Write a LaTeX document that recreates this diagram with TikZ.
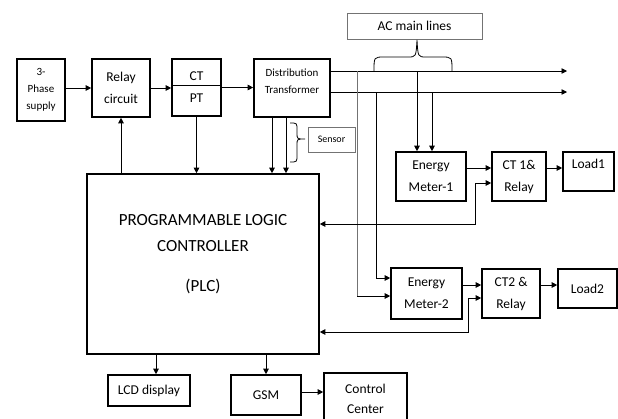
\documentclass[tikz,border=0pt]{standalone}
\usepackage{fontspec}
\setmainfont{Carlito}
\usetikzlibrary{arrows.meta}

\begin{document}
\begin{tikzpicture}[
    x=1pt, y=-1pt,
    box/.style={draw, line width=1.6pt, align=center, inner sep=2pt,
                font=\fontsize{13.5}{22}\selectfont},
    note/.style={draw=black!55, line width=0.6pt, align=center},
    txt/.style={align=center, inner sep=0pt},
    arrow/.style={-{Triangle[length=5.5pt, width=5.5pt]}, line width=0.7pt},
    both/.style={{Triangle[length=5.5pt, width=5.5pt]}-{Triangle[length=5.5pt, width=5.5pt]}, line width=0.7pt},
    feed/.style={line width=0.8pt, black!55}
]
\useasboundingbox (0,0) rectangle (618,418);

% Supply side
\node[box, minimum width=48, minimum height=62, font=\fontsize{11}{17}\selectfont] (supply) at (41,90) {3-\\Phase\\supply};
\node[box, minimum width=58, minimum height=58] (relay) at (121,88) {Relay\\circuit};
\node[box, minimum width=49, minimum height=57] (ctpt) at (196.5,87.5) {CT\\PT};
\draw[line width=0.6pt] ([yshift=2.5]ctpt.west) -- ([yshift=2.5]ctpt.east);
\node[box, minimum width=76, minimum height=58] (dt) at (292,88) {};
\node[txt, font=\fontsize{11}{17}\selectfont] (dttext) at (292,81) {Distribution\\Transformer};

% PLC
\node[box, minimum width=232, minimum height=180] (plc) at (203,264) {};
\node[txt, font=\fontsize{17}{26}\selectfont] (plctext) at (203,254) {PROGRAMMABLE LOGIC\\CONTROLLER\\[14pt](PLC)};

% Labels
\node[note, minimum width=135, minimum height=26, font=\fontsize{13.5}{16}\selectfont] (acbox) at (414.5,26) {AC main lines};
\node[note, minimum width=47, minimum height=25, font=\fontsize{10}{12}\selectfont] (sensor) at (331.5,139.5) {Sensor};

% Load 1
\node[box, minimum width=70, minimum height=49] (em1) at (431,176.5) {Energy\\Meter-1};
\node[box, minimum width=54, minimum height=49] (ct1) at (519,176.5) {CT 1\&\\Relay};
\node[box, minimum width=51, minimum height=39] (load1) at (588.5,171.5) {};
\node[txt, font=\fontsize{13.5}{16}\selectfont] (load1text) at (588.5,164) {Load1};

% Load 2
\node[box, minimum width=71, minimum height=51] (em2) at (426.5,293.5) {Energy\\Meter-2};
\node[box, minimum width=58, minimum height=49] (ct2) at (511,293.5) {CT2 \&\\Relay};
\node[box, minimum width=59, minimum height=39] (load2) at (587.5,288.5) {Load2};

% Outputs
\node[box, minimum width=82, minimum height=31] (lcd) at (149,390.5) {LCD display};
\node[box, minimum width=70, minimum height=40] (gsm) at (266,395) {GSM};
\node[box, minimum width=83, minimum height=52, font=\fontsize{13.5}{20}\selectfont] (cc) at (365.5,399) {Control\\Center};

% Helper points
\coordinate (bus1) at (567,71);
\coordinate (bus2) at (567,92);
\coordinate (tapA) at (357,296);
\coordinate (tapB) at (376,278);
\coordinate (drop1) at ([xshift=-14]em1.north);
\coordinate (drop2) at ([xshift=1]em1.north);
\coordinate (m1) at ([yshift=8.5]em1.east);
\coordinate (m2) at ([yshift=8.5]em2.east);
\coordinate (fb1) at (475,183);
\coordinate (fb1p) at (475,224);
\coordinate (fb2) at (468,298);
\coordinate (fb2p) at (468,332);
\coordinate (sA) at ([xshift=-20]dt.south);
\coordinate (sB) at ([xshift=-6]dt.south);
\coordinate (lcdin) at ([xshift=7]lcd.north);
\coordinate (gsmout) at ([yshift=3]gsm.east);

% Main chain
\draw[arrow] (supply.east |- relay.west) -- (relay.west);
\draw[arrow] (relay.east) -- (relay.east -| ctpt.west);
\draw[arrow] (ctpt.east) -- (ctpt.east -| dt.west);

% To and from the PLC
\draw[arrow] (plc.north -| relay.south) -- (relay.south);
\draw[arrow] (ctpt.south) -- (ctpt.south |- plc.north);
\draw[arrow] (sA) -- (sA |- plc.north);
\draw[arrow] (sB) -- (sB |- plc.north);

% AC lines
\draw[arrow] (dt.east |- bus1) -- (bus1);
\draw[arrow] (dt.east |- bus2) -- (bus2);
\draw[arrow] (drop1 |- bus1) -- (drop1);
\draw[arrow] (drop2 |- bus2) -- (drop2);
\draw[feed] (tapA |- bus1) -- (tapA);
\draw[arrow] (tapA) -- (tapA -| em2.west);
\draw[arrow] (tapB |- bus2) -- (tapB) -- (tapB -| em2.west);

% Meters and loads
\draw[arrow] (m1) -- (m1 -| ct1.west);
\draw[arrow] (m1 -| ct1.east) -- (m1 -| load1.west);
\draw[arrow] (m2) -- (m2 -| ct2.west);
\draw[arrow] (m2 -| ct2.east) -- (m2 -| load2.west);
\draw[both] (plc.east |- fb1p) -- (fb1p) -- (fb1) -- (fb1 -| ct1.west);
\draw[both] (plc.east |- fb2p) -- (fb2p) -- (fb2) -- (fb2 -| ct2.west);

% Outputs
\draw[arrow] (lcdin |- plc.south) -- (lcdin);
\draw[arrow] (plc.south -| gsm.north) -- (gsm.north);
\draw[arrow] (gsmout) -- (gsmout -| cc.west);

% Braces
\draw[line width=0.8pt] (374,71) .. controls (374,57) .. (384,57) -- (408,57)
    .. controls (416,57) .. (417,40) .. controls (418,57) .. (426,57) -- (442,57)
    .. controls (452,57) .. (452,71);
\draw[line width=0.8pt] (290,123) .. controls (297,123) .. (297,130) -- (297,133)
    .. controls (297,139) .. (305,139) .. controls (297,139) .. (297,145) -- (297,155)
    .. controls (297,162) .. (290,162);

\end{tikzpicture}
\end{document}
